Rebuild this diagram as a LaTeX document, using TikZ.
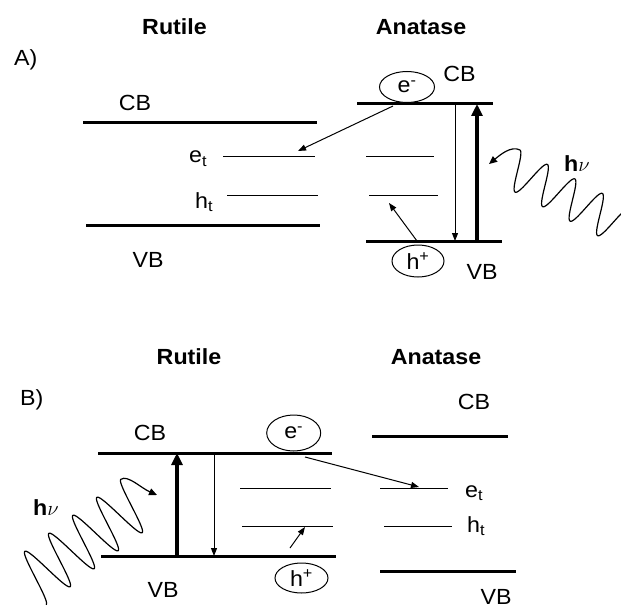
\documentclass[tikz,border=0pt]{standalone}
\usepackage{fontspec}
\setmainfont{Liberation Sans}[FakeStretch=1.06]
\usetikzlibrary{arrows.meta,shapes.geometric}
\newcommand\lblfont{\fontsize{22}{26}\selectfont}
\begin{document}
\begin{tikzpicture}[x=1bp,y=-1bp,
  band/.style={line width=3bp},
  lvl/.style={line width=1bp},
  lbl/.style={inner sep=0pt,font=\lblfont},
  ttl/.style={inner sep=0pt,font=\lblfont\bfseries},
  carrier/.style={draw,ellipse,line width=1bp,fill=white,inner sep=0pt,font=\lblfont},
  thinarr/.style={line width=1bp,-{Triangle[length=8bp,width=6bp]}},
  thickarr/.style={line width=3.5bp,-{Triangle[length=12bp,width=11bp]}},
  wave/.style={line width=1.2bp,line join=round}]
\useasboundingbox (0,0) rectangle (621,611);
\clip (0,0) rectangle (621,611);

% ================= Panel A =================
\node[ttl] (aRt) at (174.5,27) {Rutile};
\node[ttl] (aAt) at (421,27) {Anatase};
\node[lbl,anchor=base west] (aLab) at (14,66) {A)};

% Rutile levels
\draw[band] (83,123) -- (317,123);
\node[lbl] (aRcb) at (135,103) {CB};
\draw[lvl] (223,157) -- (315,157);
\node[lbl,anchor=base west] (aRet) at (189,163) {e\textsubscript{t}};
\draw[lvl] (227,195) -- (318,195);
\node[lbl,anchor=base west] (aRht) at (195,208) {h\textsubscript{t}};
\draw[band] (86,225) -- (320,225);
\node[lbl] (aRvb) at (148,260) {VB};

% Anatase levels
\draw[band] (357,104) -- (493,104);
\node[lbl] (aAcb) at (459.5,74) {CB};
\draw[lvl] (366,157) -- (434,157);
\draw[lvl] (369,195) -- (438,195);
\draw[band] (366,241) -- (502,241);
\node[lbl] (aAvb) at (482,272) {VB};

\node[carrier,minimum width=55bp,minimum height=31bp] (aE) at (407,87) {e\textsuperscript{-}};
\node[carrier,minimum width=52bp,minimum height=32bp] (aH) at (418,261) {h\textsuperscript{+}};

% transitions
\coordinate (aDt) at (455,104); \coordinate (aDb) at (455,241);
\coordinate (aUb) at (477,241); \coordinate (aUt) at (477,104);
\draw[thinarr] (aDt) -- (aDb);
\draw[thickarr] (aUb) -- (aUt);
\coordinate (aEs) at (393,106); \coordinate (aEe) at (298,151);
\draw[thinarr] (aEs) -- (aEe);
\coordinate (aHs) at (417,241); \coordinate (aHe) at (389,203);
\draw[thinarr] (aHs) -- (aHe);

% photon A
\coordinate (aWtip) at (489,164);
\coordinate (aWtop) at (519.8,149.9);
\draw[wave,{Triangle[length=8bp,width=7bp]}-] (aWtip) .. controls (500,155) and (511,145.5) .. (aWtop)
  -- plot[domain=0:139.9,samples=320,smooth,variable=\t]
  ({510.6+0.8845*\t+9.207*cos(11.579*\t)},{167.4+0.4664*\t-17.46*cos(11.579*\t)});
\node[lbl,anchor=base west] (aHnu) at (564,172) {\textbf{h}$\nu$};

% ================= Panel B =================
\node[ttl] (bRt) at (189,357) {Rutile};
\node[ttl] (bAt) at (436,357) {Anatase};
\node[lbl,anchor=base west] (bLab) at (20,405) {B)};

% Rutile levels
\node[lbl] (bRcb) at (150,433) {CB};
\draw[band] (98,453) -- (332,453);
\draw[lvl] (240,488) -- (331,488);
\draw[lvl] (242,526) -- (333,526);
\draw[band] (101,556) -- (336,556);
\node[lbl] (bRvb) at (163,590) {VB};

% Anatase levels
\node[lbl] (bAcb) at (474,402) {CB};
\draw[band] (372,436) -- (508,436);
\draw[lvl] (380,488) -- (448,488);
\node[lbl,anchor=base west] (bAet) at (465,497) {e\textsubscript{t}};
\draw[lvl] (384,526) -- (452,526);
\node[lbl,anchor=base west] (bAht) at (467,532) {h\textsubscript{t}};
\draw[band] (380,571) -- (516,571);
\node[lbl] (bAvb) at (496,597) {VB};

\node[carrier,minimum width=54bp,minimum height=36bp] (bE) at (293.7,433) {e\textsuperscript{-}};
\node[carrier,minimum width=53bp,minimum height=30bp] (bH) at (301.5,578) {h\textsuperscript{+}};

% transitions
\coordinate (bUb) at (177,556); \coordinate (bUt) at (177,453);
\coordinate (bDt) at (214,453); \coordinate (bDb) at (214,556);
\draw[thickarr] (bUb) -- (bUt);
\draw[thinarr] (bDt) -- (bDb);
\coordinate (bEs) at (305,457); \coordinate (bEe) at (419,487);
\draw[thinarr] (bEs) -- (bEe);
\coordinate (bHs) at (290,548); \coordinate (bHe) at (305,527);
\draw[thinarr] (bHs) -- (bHe);

% photon B
\coordinate (bWtip) at (157,495);
\coordinate (bWtop) at (120.9,479.3);
\draw[wave,{Triangle[length=8bp,width=7bp]}-] (bWtip) .. controls (141,488) and (127.5,474.5) .. (bWtop)
  -- plot[domain=0:135,samples=320,smooth,variable=\t]
  ({137.5-0.8*\t-16.62*cos(12*\t)},{501.5+0.6*\t-22.16*cos(12*\t)});
\node[lbl,anchor=base west] (bHnu) at (33,515) {\textbf{h}$\nu$};
\end{tikzpicture}
\end{document}
